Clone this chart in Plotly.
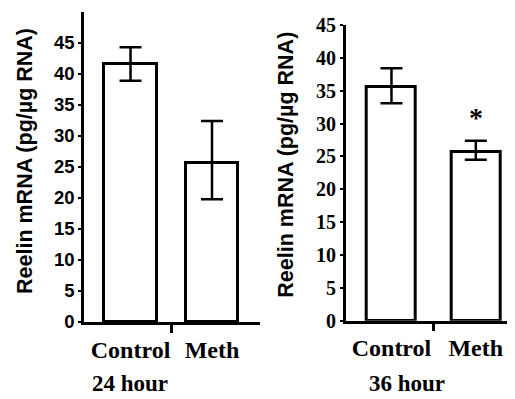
import plotly.graph_objects as go

categories = ["Control", "Meth"]
panel_titles = ["24 hour", "36 hour"]
mean_24h = [41.6, 25.6]
err_plus_24h = [2.7, 6.8]
err_minus_24h = [2.7, 5.8]
mean_36h = [35.5, 25.7]
err_plus_36h = [2.9, 1.7]
err_minus_36h = [2.4, 1.2]
yticks_24h = [0, 5, 10, 15, 20, 25, 30, 35, 40, 45]
yticks_36h = [0, 5, 10, 15, 20, 25, 30, 35, 40, 45]
ytitle = "Reelin mRNA (pg/µg RNA)"

xpos = list(range(len(categories)))

# page body has an 8px margin; work in window pixels
W, H, OFF = 507, 391, 8
def px(X):
    return (X - OFF) / W
def py(Y):
    return (399 - Y) / H

fig = go.Figure()

def add_bars(xa, ya, means, ep, em, width):
    fig.add_trace(go.Bar(
        x=xpos, y=means, xaxis=xa, yaxis=ya, width=width,
        marker=dict(color="white", line=dict(color="black", width=3)),
        error_y=dict(type="data", symmetric=False, array=ep, arrayminus=em,
                     color="black", thickness=2.5, width=11),
        showlegend=False,
    ))

add_bars("x", "y", mean_24h, err_plus_24h, err_minus_24h, 0.65)
add_bars("x2", "y2", mean_36h, err_plus_36h, err_minus_36h, 0.58)

sans = "Liberation Sans, Arial, sans-serif"
serif = "Liberation Serif, Times New Roman, serif"

common_x = dict(
    showgrid=False, zeroline=False, showline=True, linecolor="black", linewidth=2.5,
    tickvals=xpos, ticktext=categories, ticks="", automargin=False,
    tickfont=dict(family=serif, size=24, color="black", weight="bold"),
    ticklabelstandoff=4,
    minor=dict(tickvals=[0.5], ticks="outside", ticklen=8, tickwidth=3, tickcolor="black"),
)
common_y = dict(
    showgrid=False, zeroline=False, showline=True, linecolor="black", linewidth=2.5,
    ticks="outside", ticklen=3, tickwidth=2, tickcolor="black", automargin=False,
)

fig.update_layout(
    width=W, height=H,
    margin=dict(l=0, r=0, t=0, b=0),
    paper_bgcolor="white", plot_bgcolor="white",
    bargap=0,
    xaxis=dict(domain=[px(84), px(260)], range=[-0.571, 1.589], anchor="y", **common_x),
    yaxis=dict(domain=[py(322), py(12)], range=[0, 50], anchor="x",
               tickvals=yticks_24h,
               tickfont=dict(family=sans, size=18.5, color="black", weight="bold"),
               **common_y),
    xaxis2=dict(domain=[px(345.7), 1.0], range=[-0.543, 1.465], anchor="y2", **common_x),
    yaxis2=dict(domain=[py(320.7), py(25)], range=[0, 45], anchor="x2",
                tickvals=yticks_36h,
                tickfont=dict(family=serif, size=20, color="black", weight="bold"),
                **common_y),
)

annotations = [
    dict(x=px(25), y=py(161), xref="paper", yref="paper", text=ytitle, textangle=-90,
         xanchor="center", yanchor="middle",
         showarrow=False, font=dict(family=sans, size=21.5, color="black", weight="bold")),
    dict(x=px(285.7), y=py(165), xref="paper", yref="paper", text=ytitle, textangle=-90,
         xanchor="center", yanchor="middle",
         showarrow=False, font=dict(family=sans, size=21.5, color="black", weight="bold")),
    dict(x=px(130), y=py(383), xref="paper", yref="paper", text=panel_titles[0],
         xanchor="center", yanchor="middle",
         showarrow=False, font=dict(family=serif, size=23, color="black", weight="bold")),
    dict(x=px(406.5), y=py(383), xref="paper", yref="paper", text=panel_titles[1],
         xanchor="center", yanchor="middle",
         showarrow=False, font=dict(family=serif, size=23, color="black", weight="bold")),
    dict(x=1, y=mean_36h[1] + err_plus_36h[1] + 3.5, xref="x2", yref="y2", text="*",
         showarrow=False, xanchor="center", yanchor="middle",
         font=dict(family=serif, size=28, color="black", weight="bold")),
]
fig.update_layout(annotations=annotations)

fig.write_html("out.html")
